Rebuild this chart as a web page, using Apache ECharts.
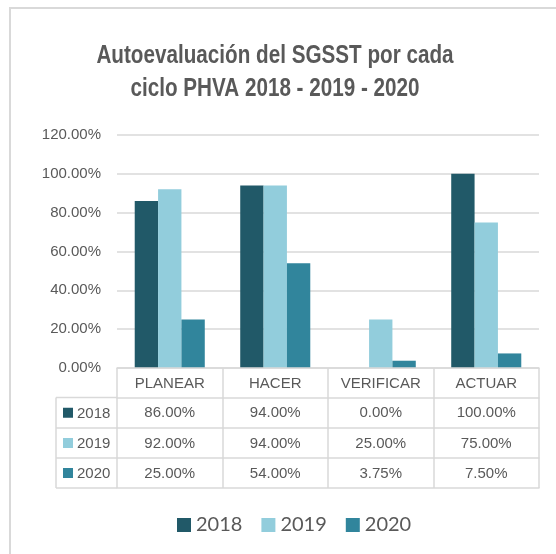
<!DOCTYPE html>
<html><head><meta charset="utf-8">
<script src="https://cdn.jsdelivr.net/npm/echarts@6/dist/echarts.min.js"></script>
<style>html,body{margin:0;padding:0;background:#fff}#c{width:556px;height:554px}</style>
</head><body><div id="c"></div>
<script>
const categories = ['PLANEAR', 'HACER', 'VERIFICAR', 'ACTUAR'];
const seriesNames = ['2018', '2019', '2020'];
const values2018 = [86, 94, 0, 100];
const values2019 = [92, 94, 25, 75];
const values2020 = [25, 54, 3.75, 7.5];
const yTicks = [0, 20, 40, 60, 80, 100, 120];
const titleText = 'Autoevaluación del SGSST por cada\nciclo PHVA 2018 - 2019 - 2020';
const colors = ['#215968', '#92CDDC', '#31859C'];
const allValues = [values2018, values2019, values2020];

const FONT = '"Liberation Sans", Arial, sans-serif';
const TXT = '#595959';
const LINE = '#D9D9D9';
const ROW_H = [29.5, 30.5, 30, 30];

const chart = echarts.init(document.getElementById('c'));
const fmt = v => Number(v).toFixed(2) + '%';

const xAxes = [{
  type: 'category', data: categories, position: 'bottom', gridIndex: 0,
  axisLine: { show: true, lineStyle: { color: LINE, width: 1.5 } },
  axisTick: { show: true, interval: 0, length: ROW_H.reduce((a, b) => a + b, 0), lineStyle: { color: LINE, width: 1.5 } },
  axisLabel: { interval: 0, color: TXT, fontFamily: FONT, fontSize: 15, margin: 8 },
  z: 3
}];
let off = 0;
for (let r = 0; r < 4; r++) {
  off += ROW_H[r];
  const vals = allValues[r];
  xAxes.push({
    type: 'category', data: categories, position: 'bottom', gridIndex: 0, offset: off,
    axisLine: { show: true, lineStyle: { color: LINE, width: 1.5 } },
    axisTick: { show: false },
    axisLabel: vals ? { show: true, interval: 0, color: TXT, fontFamily: FONT, fontSize: 15, margin: 8,
      formatter: (v, i) => fmt(vals[i]) } : { show: false },
    silent: true
  });
}

chart.setOption({
  animation: false,
  legend: {
    data: seriesNames, bottom: 14, left: 172, icon: 'rect', itemWidth: 14, itemHeight: 14, itemGap: 19,
    textStyle: { fontFamily: 'Lato, "Noto Sans", sans-serif', fontSize: 20, color: TXT }
  },
  grid: { left: 117, right: 17, top: 135, bottom: 186 },
  xAxis: xAxes,
  yAxis: {
    type: 'value', min: yTicks[0], max: yTicks[yTicks.length - 1], interval: yTicks[1] - yTicks[0],
    axisLine: { show: false }, axisTick: { show: false },
    splitLine: { lineStyle: { color: LINE, width: 1.5 } },
    axisLabel: { color: TXT, fontFamily: FONT, fontSize: 15, margin: 16, formatter: v => fmt(v) }
  },
  series: seriesNames.map((n, i) => ({
    name: n, type: 'bar', data: allValues[i], barGap: '0%', barCategoryGap: '33.6%',
    itemStyle: { color: colors[i] }
  }))
});

// Table row-header column, positioned from the grid's own geometry
const x0 = chart.convertToPixel({ xAxisIndex: 0 }, categories[0]);
const x1 = chart.convertToPixel({ xAxisIndex: 0 }, categories[1]);
const bandW = x1 - x0;
const gridLeft = x0 - bandW / 2;
const zeroY = chart.convertToPixel({ yAxisIndex: 0 }, 0);
const colLeft = 56;
const g = [];
g.push({ type: 'rect', shape: { x: 10, y: 8, width: 600, height: 600 }, style: { fill: null, stroke: LINE, lineWidth: 2 }, silent: true, z: -1 });
g.push({ type: 'text', x: 275, y: 39, scaleX: 0.795, scaleY: 1,
  style: { text: titleText, fill: TXT, font: 'bold 26px ' + FONT, align: 'center', verticalAlign: 'top', lineHeight: 33 } });
let y = zeroY + ROW_H[0];
g.push({ type: 'line', shape: { x1: colLeft, y1: y, x2: gridLeft, y2: y }, style: { stroke: LINE, lineWidth: 1.5 } });
for (let r = 0; r < 3; r++) {
  const h = ROW_H[r + 1];
  const cy = y + h / 2;
  g.push({ type: 'rect', shape: { x: colLeft + 7, y: cy - 5, width: 10, height: 10 }, style: { fill: colors[r] } });
  g.push({ type: 'text', x: colLeft + 21, y: cy + 1, style: { text: seriesNames[r], fill: TXT, font: '15px ' + FONT, verticalAlign: 'middle', align: 'left' } });
  y += h;
  g.push({ type: 'line', shape: { x1: colLeft, y1: y, x2: gridLeft, y2: y }, style: { stroke: LINE, lineWidth: 1.5 } });
}
g.push({ type: 'line', shape: { x1: colLeft, y1: zeroY + ROW_H[0], x2: colLeft, y2: y }, style: { stroke: LINE, lineWidth: 1.5 } });
chart.setOption({ graphic: g });
</script></body></html>
